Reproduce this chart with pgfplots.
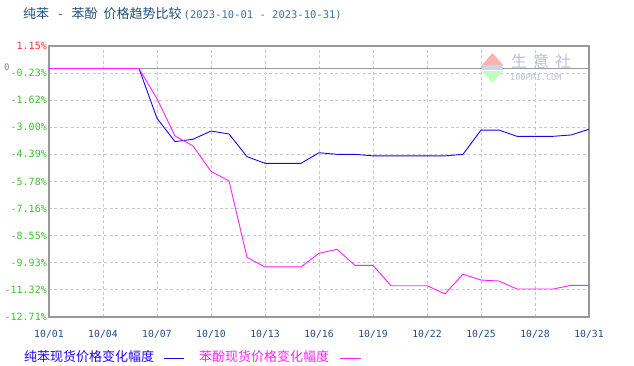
\documentclass[border=0pt]{standalone}
\usepackage{pgfplots}
\pgfplotsset{compat=1.18}
\usepackage{fontspec}
\setmainfont{DejaVu Sans}
\setmonofont{DejaVu Sans Mono}
\newfontfamily\cjk{Noto Sans CJK SC}
\definecolor{ttl}{HTML}{1F4E79}
\definecolor{ttl2}{HTML}{3A70A8}
\definecolor{tgreen}{HTML}{44BB33}
\definecolor{tred}{HTML}{FF3333}
\definecolor{lblue}{HTML}{2200EE}
\definecolor{lmag}{HTML}{FF22FF}
\definecolor{xlab}{HTML}{1F4E8C}
\definecolor{frame}{HTML}{999999}
\definecolor{gridc}{HTML}{C8C8C8}
\definecolor{wm}{HTML}{BCC0DA}
\begin{document}
\begin{tikzpicture}[x=1pt,y=1pt]
\begin{axis}[
  scale only axis, width=540pt, height=271pt,
  xmin=1, xmax=31, ymin=-12.71, ymax=1.15,
  xtick={1,4,7,10,13,16,19,22,25,28,31},
  xticklabels={10/01,10/04,10/07,10/10,10/13,10/16,10/19,10/22,10/25,10/28,10/31},
  ytick={1.15,-0.23,-1.62,-3.00,-4.39,-5.78,-7.16,-8.55,-9.93,-11.32,-12.71},
  yticklabels={\textcolor{tred}{1.15\%},-0.23\%,-1.62\%,-3.00\%,-4.39\%,-5.78\%,-7.16\%,-8.55\%,-9.93\%,-11.32\%,-12.71\%},
  yticklabel style={text=tgreen, font=\ttfamily\fontsize{10}{10}\selectfont, inner sep=2pt},
  xticklabel style={text=xlab, font=\ttfamily\fontsize{9.8}{10}\selectfont, yshift=-10pt},
  major tick length=0,
  grid=major,
  major grid style={gridc, dash pattern=on 3pt off 2.5pt, line width=0.7pt},
  axis line style={frame, line width=1.2pt},
  clip=false,
]
\coordinate (O) at (rel axis cs:0,0);
\addplot[frame, line width=1pt, forget plot] coordinates {(1,0) (31,0)};
\addplot[lblue, line width=0.9pt] coordinates {
(1,0)(2,0)(3,0)(4,0)(5,0)(6,0)(7,-2.55)(8,-3.74)(9,-3.62)(10,-3.20)(11,-3.35)(12,-4.51)(13,-4.85)(14,-4.85)(15,-4.85)(16,-4.31)(17,-4.39)(18,-4.39)(19,-4.47)(20,-4.47)(21,-4.47)(22,-4.47)(23,-4.47)(24,-4.39)(25,-3.15)(26,-3.15)(27,-3.47)(28,-3.47)(29,-3.47)(30,-3.40)(31,-3.11)};
\addplot[lmag, line width=0.9pt] coordinates {
(1,0)(2,0)(3,0)(4,0)(5,0)(6,0)(7,-1.55)(8,-3.45)(9,-3.96)(10,-5.26)(11,-5.75)(12,-9.66)(13,-10.15)(14,-10.15)(15,-10.15)(16,-9.45)(17,-9.25)(18,-10.07)(19,-10.07)(20,-11.11)(21,-11.11)(22,-11.11)(23,-11.53)(24,-10.52)(25,-10.82)(26,-10.87)(27,-11.28)(28,-11.28)(29,-11.28)(30,-11.09)(31,-11.09)};
\end{axis}
\pgfresetboundingbox
\begin{scope}[shift={(O)}, shift={(-49,317)}]
\path[use as bounding box] (0,0) rectangle (634,-366);
\node[anchor=west,inner sep=0] at (23,-14) {\cjk\fontsize{13}{14}\selectfont\color{ttl}纯苯\hspace{9pt}-\hspace{9pt}苯酚\hspace{6pt}价格趋势比较\hspace{2pt}{\ttfamily\fontsize{10.5}{12}\selectfont\color{ttl2}(2023-10-01 - 2023-10-31)}};
% watermark
\node[anchor=west,inner sep=0,text=wm] at (511,-61) {\cjk\fontsize{16}{18}\selectfont 生\hspace{6pt}意\hspace{6pt}社};
\node[anchor=west,inner sep=0,text=wm] at (510,-77) {\ttfamily\fontsize{8.5}{9}\selectfont 100PPI.COM};
\fill[red!30] (482,-65) -- (492.5,-53) -- (503,-65) -- cycle;
\fill[wm!70] (482,-65.5) rectangle (503,-70);
\fill[green!25] (482,-71) -- (492.5,-83) -- (503,-71) -- cycle;
\node[anchor=west,inner sep=0,text=gray] at (4,-67) {\ttfamily\fontsize{9}{10}\selectfont 0};
\node[anchor=west,inner sep=0] at (24,-357) {\cjk\fontsize{13}{14}\selectfont\color{lblue}纯苯现货价格变化幅度};
\draw[lblue, line width=0.8pt] (164,-358) -- (184,-358);
\node[anchor=west,inner sep=0] at (199,-357) {\cjk\fontsize{13}{14}\selectfont\color{lmag}苯酚现货价格变化幅度};
\draw[lmag, line width=0.8pt] (340,-358) -- (361,-358);
\end{scope}
\end{tikzpicture}
\end{document}
